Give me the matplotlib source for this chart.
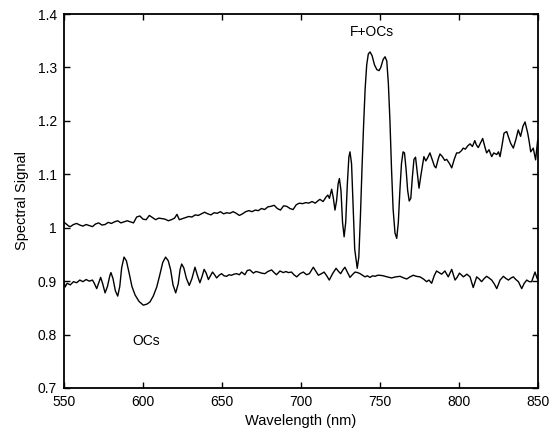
'''spectral signal of OCs and F+OCs versus wavelength'''
import matplotlib
matplotlib.use('Agg')
import matplotlib.pyplot as plt
from matplotlib.ticker import FormatStrFormatter

plt.rcParams['font.family'] = ['Liberation Sans', 'DejaVu Sans']

# F+OCs curve (wavelength in nm, signal)
wl_fo = [550, 551, 553, 554, 556, 558, 560, 562, 564, 566, 568, 570, 572, 574, 576, 578,
         580, 582, 584, 586, 588, 590, 592, 594, 596, 598, 600, 602, 604, 606, 608, 610,
         612, 614, 616, 618, 620, 621.5, 623, 625, 627, 629, 631, 633, 635, 637, 639, 641,
         643, 645, 647, 649, 651, 653, 655, 657, 659, 661, 663, 665, 667, 669, 671, 673,
         675, 677, 679, 681, 683, 685, 687, 689, 691, 693, 695, 697, 699, 701, 703, 705,
         707, 709, 711, 712, 714, 716, 717, 718, 719.4, 720.5, 721.5, 722.5, 723.5, 724.3,
         725.3, 726.3, 727.3, 728.3, 729.3, 730.3, 731, 732, 733, 734, 735.6, 736.6, 737.6,
         738.6, 739.6, 740.6, 741.6, 742.6, 743.7, 745, 746.5, 748, 749.4, 750.5, 752, 753.2,
         754.3, 755.3, 756.3, 757.3, 758.3, 759.5, 760.6, 761.6, 762.6, 763.6, 764.6, 765.5,
         766.5, 767.5, 768.5, 769.5, 770.5, 771.5, 772.5, 773.5, 774.7, 776, 777.8, 779, 780,
         781.6, 783, 784.5, 785.4, 787, 788, 789.5, 791, 792.2, 794, 795.4, 797, 798.5, 800,
         801.5, 802.7, 804, 805.5, 807, 808.5, 810, 811, 812.2, 813.5, 815, 816.5, 817.5,
         819, 820.7, 822, 823.9, 825, 826, 827.3, 828.5, 830.2, 831.3, 832.7, 834.4, 836,
         837.5, 839, 840.5, 841.8, 843.5, 844.5, 845.4, 847, 848.5, 849.8, 850]
sig_fo = [1.010, 1.008, 1.003, 1.002, 1.006, 1.008, 1.005, 1.003, 1.006, 1.004, 1.002, 1.007,
          1.009, 1.005, 1.006, 1.010, 1.008, 1.011, 1.013, 1.009, 1.011, 1.013, 1.011, 1.009,
          1.020, 1.022, 1.016, 1.015, 1.023, 1.019, 1.015, 1.018, 1.017, 1.016, 1.013, 1.015,
          1.018, 1.025, 1.015, 1.017, 1.019, 1.021, 1.020, 1.024, 1.023, 1.026, 1.029, 1.026,
          1.024, 1.028, 1.027, 1.030, 1.026, 1.028, 1.027, 1.030, 1.027, 1.023, 1.026, 1.030,
          1.032, 1.030, 1.033, 1.032, 1.036, 1.034, 1.039, 1.040, 1.042, 1.036, 1.033, 1.041,
          1.040, 1.036, 1.034, 1.043, 1.046, 1.045, 1.047, 1.046, 1.049, 1.046, 1.051, 1.053,
          1.049, 1.058, 1.061, 1.055, 1.072, 1.055, 1.033, 1.050, 1.082, 1.092, 1.070, 1.010,
          0.983, 1.010, 1.080, 1.132, 1.142, 1.120, 1.040, 0.960, 0.924, 0.945, 1.020, 1.110,
          1.190, 1.260, 1.305, 1.325, 1.329, 1.322, 1.305, 1.296, 1.294, 1.300, 1.315, 1.320,
          1.312, 1.270, 1.200, 1.110, 1.035, 0.990, 0.980, 1.010, 1.070, 1.120, 1.142, 1.140,
          1.110, 1.070, 1.050, 1.055, 1.095, 1.128, 1.132, 1.105, 1.074, 1.100, 1.133, 1.125,
          1.130, 1.140, 1.128, 1.115, 1.112, 1.130, 1.138, 1.133, 1.126, 1.128, 1.120, 1.112,
          1.128, 1.140, 1.140, 1.144, 1.149, 1.147, 1.153, 1.157, 1.152, 1.163, 1.155, 1.150,
          1.158, 1.167, 1.150, 1.140, 1.146, 1.133, 1.140, 1.137, 1.142, 1.133, 1.155, 1.177,
          1.180, 1.170, 1.158, 1.149, 1.165, 1.183, 1.171, 1.190, 1.198, 1.177, 1.160, 1.142,
          1.149, 1.127, 1.164, 1.160]

# OCs curve
wl_oc = [550, 550.7, 552, 554, 556, 558, 560, 562, 564, 566, 568, 569, 570.7, 572, 573.2,
         574.5, 576, 577.5, 579, 579.7, 581, 582.5, 584, 585.3, 586.5, 588, 589.5, 591.3,
         593, 595, 597.5, 600.2, 602.5, 604.4, 606.5, 608.7, 610.5, 612.5, 614.3, 616, 617.5,
         619, 620.7, 622.3, 623.5, 624.5, 625.8, 627.5, 629.3, 631, 632.9, 634.3, 636, 637.3,
         638.7, 640, 641.4, 642.7, 644, 645.3, 646.6, 648.2, 649.7, 651.3, 652.9, 654.5, 656,
         657.6, 659.2, 661, 662.4, 664.5, 666, 667.7, 669.8, 671.5, 673, 675, 677.2, 679,
         681.4, 683, 684.5, 686.7, 688.8, 690.5, 692, 694, 695.5, 697.3, 699.4, 701.5, 703.5,
         705.3, 707.8, 709.5, 711, 713, 714.6, 716.3, 717.9, 720, 722.2, 723.8, 725.1, 726.5,
         727.8, 729.5, 731, 732.5, 734.2, 735.8, 737.4, 739, 740.5, 742, 743.7, 745.3, 746.9,
         748.5, 750, 752, 754.5, 757.3, 760, 762.7, 765, 766.9, 769, 771.1, 773, 775.3, 777.5,
         779.5, 781, 782.7, 784.3, 785.8, 787.4, 789, 791.1, 793.2, 795.4, 797.5, 798.8, 800.3,
         802.8, 805, 807, 809, 811.2, 812.8, 814.3, 816, 817.5, 819, 820.7, 822.3, 823.9, 826,
         828.1, 829.7, 831.3, 833, 834.4, 836, 837.6, 839.7, 841.3, 842.9, 844.5, 846, 848.1,
         849.6, 850]
sig_oc = [0.900, 0.889, 0.896, 0.893, 0.899, 0.897, 0.902, 0.899, 0.903, 0.900, 0.902, 0.897,
          0.886, 0.897, 0.907, 0.895, 0.878, 0.890, 0.910, 0.916, 0.905, 0.882, 0.872, 0.890,
          0.925, 0.945, 0.938, 0.914, 0.890, 0.874, 0.862, 0.855, 0.857, 0.861, 0.872, 0.889,
          0.910, 0.935, 0.945, 0.938, 0.921, 0.893, 0.878, 0.895, 0.922, 0.932, 0.925, 0.905,
          0.892, 0.905, 0.926, 0.912, 0.897, 0.908, 0.922, 0.915, 0.903, 0.910, 0.917, 0.912,
          0.906, 0.911, 0.914, 0.910, 0.909, 0.912, 0.911, 0.913, 0.914, 0.912, 0.917, 0.912,
          0.920, 0.921, 0.915, 0.918, 0.917, 0.915, 0.914, 0.918, 0.921, 0.916, 0.912, 0.919,
          0.916, 0.918, 0.916, 0.917, 0.912, 0.908, 0.914, 0.917, 0.912, 0.914, 0.926, 0.918,
          0.911, 0.914, 0.917, 0.910, 0.902, 0.914, 0.924, 0.918, 0.914, 0.921, 0.926, 0.916,
          0.907, 0.912, 0.917, 0.916, 0.914, 0.911, 0.908, 0.910, 0.907, 0.910, 0.909, 0.911,
          0.911, 0.910, 0.908, 0.906, 0.908, 0.909, 0.906, 0.904, 0.908, 0.911, 0.909, 0.908,
          0.904, 0.899, 0.902, 0.896, 0.910, 0.919, 0.916, 0.913, 0.919, 0.908, 0.922, 0.902,
          0.907, 0.915, 0.908, 0.913, 0.908, 0.888, 0.908, 0.904, 0.899, 0.905, 0.909, 0.906,
          0.902, 0.895, 0.886, 0.902, 0.909, 0.905, 0.902, 0.906, 0.908, 0.903, 0.899, 0.886,
          0.896, 0.902, 0.899, 0.899, 0.917, 0.904, 0.905]

x_ticks = [550, 600, 650, 700, 750, 800, 850]
y_ticks = [0.7, 0.8, 0.9, 1.0, 1.1, 1.2, 1.3, 1.4]

fig = plt.figure(figsize=(5.56, 4.38), dpi=100)
ax = fig.add_axes([0.1151, 0.1142, 0.8525, 0.8538])

ax.plot(wl_fo, sig_fo, color='black', lw=1.0)
ax.plot(wl_oc, sig_oc, color='black', lw=1.0)

ax.text(744.6, 1.367, 'F+OCs', ha='center', va='center', fontsize=10)
ax.text(602.3, 0.788, 'OCs', ha='center', va='center', fontsize=10)

ax.set_xlim(550, 850)
ax.set_ylim(0.7, 1.4)
ax.set_xticks(x_ticks)
ax.set_yticks(y_ticks)
ax.yaxis.set_major_formatter(FormatStrFormatter('%g'))
ax.tick_params(direction='in', top=True, right=True, length=4.5, width=1.0,
               labelsize=10, pad=5)
for sp in ax.spines.values():
    sp.set_linewidth(1.3)

ax.set_xlabel('Wavelength (nm)', fontsize=10.5, labelpad=4)
ax.set_ylabel('Spectral Signal', fontsize=10.5, labelpad=6)

fig.savefig('out.png', dpi=100)
